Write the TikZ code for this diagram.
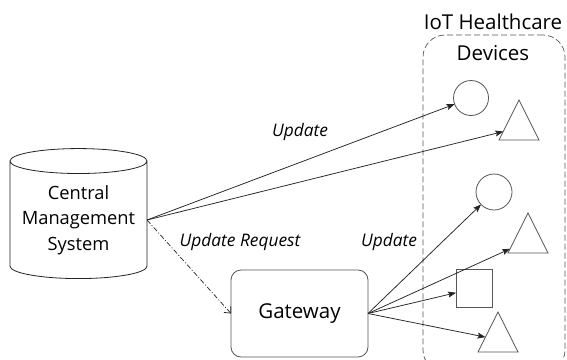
\documentclass[tikz,border=0pt]{standalone}
\usepackage{fontspec}
\setmainfont{Open Sans}
\definecolor{lnegray}{RGB}{35,35,35}
\definecolor{bdgray}{RGB}{85,85,85}
\usetikzlibrary{arrows.meta,positioning,shapes.geometric}

\begin{document}
\begin{tikzpicture}[x=1pt, y=-1pt, every node/.style={inner sep=0pt, outer sep=0pt},
  dev/.style={draw=bdgray, line width=0.8pt},
  tri/.style={dev, isosceles triangle, isosceles triangle stretches, shape border rotate=90, minimum width=40pt, minimum height=40pt, anchor=apex},
  upd/.style={-{Stealth[length=8pt, width=6pt, inset=1.5pt]}, draw=lnegray, line width=0.75pt},
  lbl/.style={font=\fontsize{17.3}{20}\selectfont\itshape}]
\useasboundingbox (0,0) rectangle (567,359);
\clip (0,0) rectangle (567,359);
% central system
\node[draw=lnegray, line width=0.8pt, cylinder, shape border rotate=90, aspect=0.22, minimum width=137pt, minimum height=130pt, align=center, font=\fontsize{18.3}{25.5}\selectfont] (cms) at (78.5,220) {Central\\Management\\System};
% gateway
\node[draw=bdgray, line width=0.8pt, rounded corners=10pt, minimum width=137pt, minimum height=87pt, font=\fontsize{20.5}{24}\selectfont] (gw) at (299.5,313.5) {Gateway};
% device group
\node[draw=bdgray, line width=0.7pt, dash pattern=on 6pt off 3pt, rounded corners=22pt, minimum width=142pt, minimum height=337pt] (grp) at (494,203.5) {};
\node[align=center, font=\fontsize{20.5}{31}\selectfont] (title) at (493,37) {IoT Healthcare\\Devices};
% devices
\node[dev, circle, minimum size=35pt] (c1) at (471,98) {};
\node[tri] (t1) at (519,100) {};
\node[dev, circle, minimum size=36pt] (c2) at (494,192) {};
\node[tri] (t2) at (528,213) {};
\node[dev, minimum width=36pt, minimum height=38pt] (sq) at (474,288.5) {};
\node[tri] (t3) at (498,312) {};
% labels
\node[lbl] (lup) at (300,132) {Update};
\node[lbl] (lreq) at (240,242) {Update Request};
\node[lbl] (lgw) at (389,242) {Update};
% arrows
\draw[upd] (cms.east) -- (c1);
\draw[upd] (cms.east) -- (t1);
\draw[lnegray, line width=0.7pt, dash pattern=on 5pt off 2pt on 1pt off 2pt, -{Straight Barb[length=5pt, width=9pt]}] (cms.east) -- (gw.west);
\draw[upd] (gw.east) -- (c2);
\draw[upd] (gw.east) -- (t2);
\draw[upd] (gw.east) -- (sq);
\draw[upd] (gw.east) -- (t3);
\end{tikzpicture}
\end{document}
